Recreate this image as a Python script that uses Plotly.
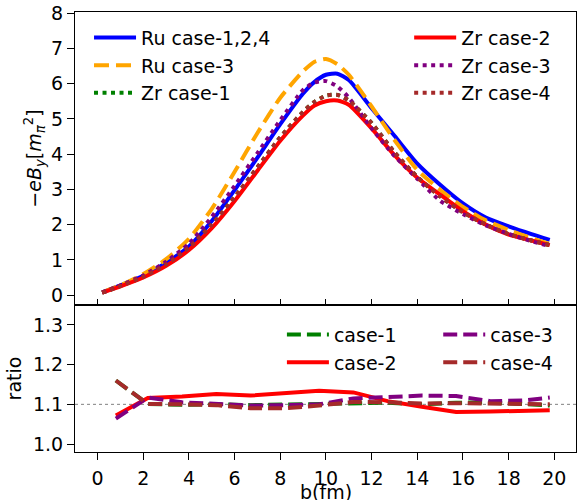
import plotly.graph_objects as go

# impact parameter grid (fm) for the field curves
b = [0.2, 1, 2, 3, 4, 5, 6, 7, 8, 9, 9.5, 10, 10.5, 11, 12, 13, 14, 15, 16, 17, 18, 19, 19.8]

ru_124 = [0.08, 0.28, 0.55, 0.92, 1.38, 2.1, 2.98, 3.9, 4.85, 5.72, 6.05, 6.25, 6.28, 6.1, 5.3, 4.52, 3.73, 3.13, 2.6, 2.2, 1.95, 1.73, 1.57]
ru_3 = [0.08, 0.28, 0.6, 1.02, 1.6, 2.45, 3.5, 4.6, 5.6, 6.35, 6.62, 6.7, 6.55, 6.25, 5.35, 4.4, 3.55, 2.99, 2.5, 2.12, 1.85, 1.62, 1.45]
zr_1 = [0.07, 0.26, 0.52, 0.87, 1.35, 2.0, 2.78, 3.63, 4.48, 5.2, 5.48, 5.66, 5.68, 5.52, 4.88, 4.05, 3.35, 2.8, 2.35, 2.0, 1.73, 1.55, 1.42]
zr_2 = [0.07, 0.25, 0.5, 0.83, 1.28, 1.9, 2.67, 3.53, 4.38, 5.1, 5.38, 5.5, 5.52, 5.4, 4.73, 3.97, 3.33, 2.85, 2.38, 2.0, 1.72, 1.55, 1.42]
zr_3 = [0.08, 0.28, 0.56, 0.95, 1.46, 2.22, 3.1, 4.03, 4.96, 5.82, 6.03, 6.07, 5.92, 5.6, 4.73, 3.95, 3.3, 2.68, 2.3, 1.98, 1.74, 1.53, 1.39]
zr_4 = [0.07, 0.26, 0.52, 0.87, 1.35, 2.0, 2.78, 3.63, 4.48, 5.2, 5.48, 5.66, 5.68, 5.52, 4.88, 4.05, 3.35, 2.8, 2.35, 2.0, 1.73, 1.55, 1.42]

# ratio Ru/Zr grid (fm)
b_r = [0.8, 2.2, 3.7, 5.2, 6.7, 8.2, 9.7, 11.2, 12.7, 14.2, 15.7, 17.2, 18.7, 19.8]
ratio_1 = [1.16, 1.101, 1.099, 1.1, 1.098, 1.099, 1.1, 1.103, 1.104, 1.1, 1.104, 1.105, 1.1, 1.097]
ratio_2 = [1.072, 1.116, 1.12, 1.126, 1.122, 1.128, 1.134, 1.13, 1.108, 1.094, 1.081, 1.082, 1.084, 1.085]
ratio_3 = [1.064, 1.117, 1.105, 1.1, 1.097, 1.098, 1.1, 1.115, 1.118, 1.122, 1.121, 1.108, 1.11, 1.117]
ratio_4 = [1.16, 1.101, 1.1, 1.098, 1.09, 1.09, 1.097, 1.106, 1.105, 1.102, 1.103, 1.102, 1.1, 1.1]

FONT = "DejaVu Sans"
DOT = "4px,4.5px"
DASH = "15px,7px"

fig = go.Figure()

top = [
    ("Ru case-1,2,4", ru_124, "blue", "solid", "legend"),
    ("Ru case-3", ru_3, "orange", DASH, "legend"),
    ("Zr case-1", zr_1, "green", DOT, "legend"),
    ("Zr case-2", zr_2, "red", "solid", "legend2"),
    ("Zr case-3", zr_3, "purple", DOT, "legend2"),
    ("Zr case-4", zr_4, "brown", DOT, "legend2"),
]
for name, ys, col, dash, lg in top:
    fig.add_trace(go.Scatter(x=b, y=ys, mode="lines", name=name, legend=lg,
                             line=dict(color=col, width=4, dash=dash,
                                       shape="spline", smoothing=0.6),
                             xaxis="x", yaxis="y"))

bottom = [
    ("case-1", ratio_1, "green", "14px,6px", "legend3"),
    ("case-2", ratio_2, "red", "solid", "legend3"),
    ("case-3", ratio_3, "purple", "14px,6px", "legend4"),
    ("case-4", ratio_4, "brown", "14px,6px", "legend4"),
]
for name, ys, col, dash, lg in bottom:
    fig.add_trace(go.Scatter(x=b_r, y=ys, mode="lines", name=name, legend=lg,
                             line=dict(color=col, width=4, dash=dash),
                             xaxis="x2", yaxis="y2"))

fig.add_shape(type="line", xref="x2 domain", yref="y2", x0=0, x1=1, y0=1.1, y1=1.1,
              line=dict(color="gray", width=1, dash="dot"), layer="below")

# x-axis title placed just below the tick labels of the lower panel
fig.add_annotation(text="b(fm)", xref="x2 domain", yref="paper", x=0.5, y=-0.091,
                   xanchor="center", yanchor="middle", showarrow=False,
                   font=dict(family=FONT, size=19, color="black"))

axis_common = dict(showline=True, linecolor="black", linewidth=1, mirror=True,
                   showgrid=False, zeroline=False, tickcolor="black", tickwidth=1,
                   automargin=False,
                   tickfont=dict(family=FONT, size=19, color="black"))

leg_common = dict(bgcolor="rgba(0,0,0,0)", font=dict(family=FONT, size=19, color="black"),
                  xanchor="left", yanchor="top", orientation="v", tracegroupgap=0,
                  itemwidth=42)

fig.update_layout(
    width=579, height=500,
    margin=dict(l=75, r=3, t=12, b=48, autoexpand=False),
    plot_bgcolor="white", paper_bgcolor="white",
    font=dict(family=FONT, size=19, color="black"),
    xaxis=dict(axis_common, domain=[0, 1], range=[-0.99, 20.95], anchor="y",
               tickvals=list(range(0, 21, 2)), showticklabels=False,
               ticks="inside", ticklen=6),
    yaxis=dict(axis_common, domain=[0.334, 1], range=[-0.28, 8.03], anchor="x",
               tickvals=list(range(0, 9)), ticks="outside", ticklen=7,
               title=dict(text="\u2212<i>eB</i><sub><i>y</i></sub>[<i>m</i><sub><i>\u03c0</i></sub><sup>2</sup>]",
                          font=dict(family=FONT, size=19), standoff=4)),
    xaxis2=dict(axis_common, domain=[0, 1], range=[-0.99, 20.95], anchor="y2",
                tickvals=list(range(0, 21, 2)), ticks="outside", ticklen=7,
                ticklabelstandoff=2),
    yaxis2=dict(axis_common, domain=[0, 0.334], range=[0.98, 1.35], anchor="x2",
                tickvals=[1.0, 1.1, 1.2, 1.3], tickformat=".1f", ticks="outside", ticklen=7,
                title=dict(text="ratio", font=dict(family=FONT, size=19), standoff=6)),
    legend=dict(leg_common, x=0.028, y=0.985),
    legend2=dict(leg_common, x=0.667, y=0.985),
    legend3=dict(leg_common, x=0.413, y=0.31),
    legend4=dict(leg_common, x=0.725, y=0.31),
)

fig.write_html("out.html")
